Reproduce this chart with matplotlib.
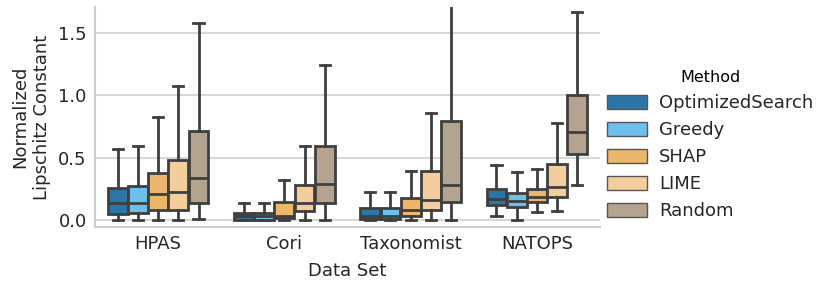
import matplotlib
matplotlib.use("Agg")
import matplotlib.pyplot as plt
from matplotlib.patches import Patch

datasets = ["HPAS", "Cori", "Taxonomist", "NATOPS"]
methods = ["OptimizedSearch", "Greedy", "SHAP", "LIME", "Random"]
colors = ["#2c76a6", "#6cc0ec", "#ecb66c", "#f4cd9d", "#b4a48f"]

# per dataset, per method: lower whisker, q1, median, q3, upper whisker
whislo = [
    [0.0, 0.0, 0.005, 0.0, 0.011],
    [0.0, 0.0, 0.0, 0.0, 0.0],
    [0.0, 0.0, 0.0, 0.0, 0.003],
    [0.037, 0.0, 0.067, 0.075, 0.282],
]
q1 = [
    [0.053, 0.059, 0.083, 0.083, 0.141],
    [0.0, 0.0, 0.016, 0.075, 0.141],
    [0.008, 0.008, 0.032, 0.085, 0.149],
    [0.12, 0.109, 0.147, 0.189, 0.535],
]
med = [
    [0.139, 0.139, 0.208, 0.226, 0.338],
    [0.035, 0.035, 0.037, 0.141, 0.293],
    [0.037, 0.035, 0.080, 0.163, 0.282],
    [0.171, 0.152, 0.187, 0.267, 0.71],
]
q3 = [
    [0.263, 0.274, 0.381, 0.482, 0.718],
    [0.059, 0.059, 0.149, 0.285, 0.594],
    [0.096, 0.099, 0.176, 0.394, 0.796],
    [0.251, 0.221, 0.253, 0.45, 1.001],
]
whishi = [
    [0.575, 0.596, 0.825, 1.075, 1.583],
    [0.141, 0.141, 0.322, 0.594, 1.24],
    [0.224, 0.224, 0.394, 0.862, 1.95],
    [0.442, 0.389, 0.415, 0.78, 1.671],
]

line_c = "#3f3f3f"
fs = 13
lw = 2.0

fig = plt.figure(figsize=(8.3, 2.9), dpi=100)
ax = fig.add_axes([95 / 830, 63 / 290, 505 / 830, 220 / 290])

n = len(methods)
width = 0.8
bw = width / n
for i, ds in enumerate(datasets):
    for j, m in enumerate(methods):
        pos = i - width / 2 + bw * (j + 0.5)
        stats = [dict(whislo=whislo[i][j], q1=q1[i][j], med=med[i][j],
                      q3=q3[i][j], whishi=whishi[i][j], label=m)]
        ax.bxp(stats, positions=[pos], widths=bw * 0.98, showfliers=False,
               patch_artist=True, manage_ticks=False,
               boxprops=dict(facecolor=colors[j], edgecolor=line_c, linewidth=lw),
               medianprops=dict(color=line_c, linewidth=lw),
               whiskerprops=dict(color=line_c, linewidth=lw),
               capprops=dict(color=line_c, linewidth=lw),
               capwidths=bw * 0.5)

ax.set_xlim(-0.5, len(datasets) - 0.5)
ax.set_ylim(-0.053, 1.708)
ax.set_xticks(range(len(datasets)))
ax.set_xticklabels(datasets, fontsize=fs, color="#262626")
ax.set_yticks([0.0, 0.5, 1.0, 1.5])
ax.set_yticklabels(["0.0", "0.5", "1.0", "1.5"], fontsize=fs, color="#262626")
ax.tick_params(length=0, pad=6)
ax.yaxis.grid(True, color="#d3d3d3", linewidth=1.3)
ax.set_axisbelow(True)
for s in ["top", "right"]:
    ax.spines[s].set_visible(False)
for s in ["left", "bottom"]:
    ax.spines[s].set_color("#cccccc")
    ax.spines[s].set_linewidth(1.5)
ax.set_xlabel("Data Set", fontsize=fs, color="#262626", labelpad=6)
ax.set_ylabel("Normalized\nLipschitz Constant", fontsize=fs, color="#262626",
              labelpad=5, linespacing=1.25)

handles = [Patch(facecolor=c, edgecolor="#555555", linewidth=1.0, label=m)
           for c, m in zip(colors, methods)]
leg = fig.legend(handles=handles, title="Method", loc="center left",
                 bbox_to_anchor=(596 / 830, 0.5), frameon=False, fontsize=fs,
                 title_fontsize=11.5, handlelength=2.2, handleheight=0.8,
                 labelspacing=0.5, handletextpad=0.7, borderaxespad=0.2)
for t in leg.get_texts():
    t.set_color("#262626")

fig.savefig("out.png", dpi=100)
